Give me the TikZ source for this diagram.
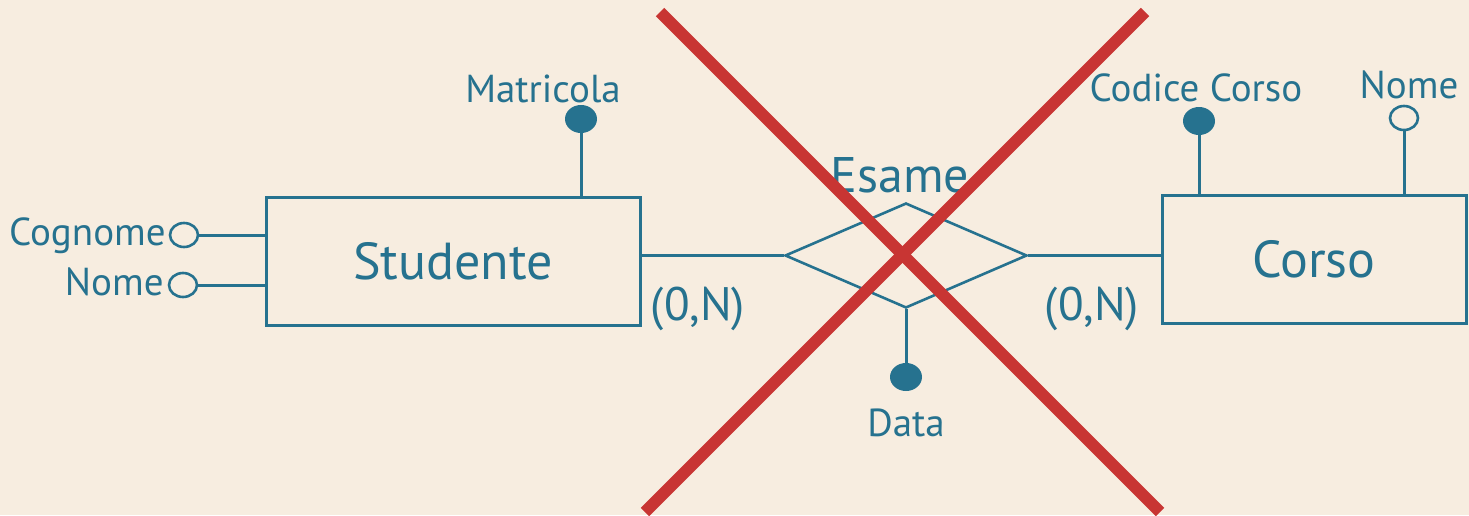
\documentclass[tikz,border=0pt]{standalone}
\usepackage{fontspec}
\setmainfont{PT Sans}
\usetikzlibrary{shapes.geometric}
\definecolor{erblue}{HTML}{26728F}
\definecolor{bgcream}{HTML}{F7EDE0}
\definecolor{crossred}{HTML}{C83533}
\tikzset{
	entity/.style = {rectangle, draw=erblue, line width=1.5pt, text=erblue,
		minimum height=64pt, font=\fontsize{26}{30}\selectfont},
	relation/.style = {diamond, draw=erblue, line width=1.3pt, aspect=2.3,
		inner sep=0pt, minimum width=121pt, minimum height=52.5pt},
	keyattr/.style = {ellipse, fill=erblue, inner sep=0pt,
		minimum width=16pt, minimum height=14pt},
	attr/.style = {ellipse, draw=erblue, fill=bgcream, line width=1.3pt,
		inner sep=0pt, minimum width=14pt, minimum height=12pt},
	lbl/.style = {text=erblue, inner sep=0pt, anchor=base,
		font=\fontsize{19.5}{22}\selectfont},
	card/.style = {lbl, font=\fontsize{23.5}{26}\selectfont},
	link/.style = {draw=erblue, line width=1.5pt},
	cross/.style = {draw=crossred, line width=6pt}
}
\begin{document}
\begin{tikzpicture}[x=0.5pt, y=-0.5pt]
\fill[bgcream] (0,0) rectangle (1469,515);
\useasboundingbox (0,0) rectangle (1469,515);

% entities and relation
\node [entity, minimum width=187pt] (stu) at (453,261) {Studente};
\node [entity, minimum width=152pt] (cor) at (1314,259) {Corso};
\node [relation] (esa) at (906,255.5) {};
\node [lbl, font=\fontsize{25}{28}\selectfont] (esalbl) at (900,192) {Esame};

\draw [link] (stu.east |- esa.west) -- (esa.west);
\draw [link] (esa.east) -- (cor.west |- esa.east);
\node [card] (card1) at (698,320) {(0,N)};
\node [card] (card2) at (1092,320) {(0,N)};

% attributes of Studente
\node [keyattr] (mat) at (581,119) {};
\node [lbl] (matlbl) at (543,102) {Matricola};
\draw [link] (mat) -- (mat |- stu.north);
\node [attr] (cog) at (184,235) {};
\node [lbl, anchor=base east] (coglbl) at (166,245) {Cognome};
\draw [link] (cog) -- (cog -| stu.west);
\node [attr] (snm) at (183,285) {};
\node [lbl, anchor=base east] (snmlbl) at (164,295) {Nome};
\draw [link] (snm) -- (snm -| stu.west);

% attributes of Corso
\node [keyattr] (cod) at (1199,121) {};
\node [lbl] (codlbl) at (1196,101) {Codice Corso};
\draw [link] (cod) -- (cod |- cor.north);
\node [attr] (cnm) at (1404,118) {};
\node [lbl] (cnmlbl) at (1409,98) {Nome};
\draw [link] (cnm) -- (cnm |- cor.north);

% attribute of Esame
\node [keyattr] (dat) at (906,377) {};
\node [lbl] (datlbl) at (906,436) {Data};
\draw [link] (esa.south) -- (dat);

% the cross
\coordinate (x1) at (660,12);
\coordinate (x2) at (1160,512);
\coordinate (x3) at (1145,12);
\coordinate (x4) at (645,512);
\draw [cross] (x1) -- (x2);
\draw [cross] (x3) -- (x4);
\end{tikzpicture}
\end{document}
